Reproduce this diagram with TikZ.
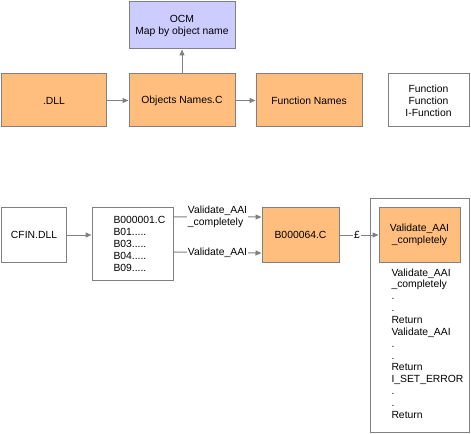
\documentclass[tikz,border=0pt]{standalone}
\usepackage        {fontspec}
\usepackage        {tikz    }
\usetikzlibrary    {arrows.meta}
\setmainfont{Liberation Sans}
\definecolor{boxline}{RGB}{128,128,128}
\definecolor{boxorange}{RGB}{255,190,125}
\definecolor{boxblue}{RGB}{204,204,255}

\begin{document}
\begin{tikzpicture}
  [->,>={Triangle[length=6bp,width=5bp]},x=1bp,y=-1bp,
   line width=1bp,draw=boxline,color=boxline,
   every node/.style={font=\fontsize{10.4}{12}\selectfont,text=black,inner sep=0pt},
   box/.style={rectangle,draw=boxline,align=center},
   orange/.style={box,fill=boxorange},
   lbl/.style={fill=white,align=left,inner sep=1bp}]
  \useasboundingbox (0,0) rectangle (471,434);

  \node[box,fill=boxblue,minimum width=106bp,minimum height=47bp] (OCM) at (182,25.5) {OCM\\Map by object name};
  \node[orange,minimum width=104bp,minimum height=53bp] (DLL) at (54,100.5) {.DLL};
  \node[orange,minimum width=106bp,minimum height=53bp] (ON) at (182,100.5) {Objects Names.C};
  \node[orange,minimum width=106bp,minimum height=53bp] (FN) at (309,100.5) {Function Names};
  \node[box,fill=white,minimum width=81bp,minimum height=53bp] (F) at (428.5,100.5) {Function\\Function\\I-Function};

  \node[box,minimum width=64bp,minimum height=54bp] (CF) at (34,235) {CFIN.DLL};
  \node[box,minimum width=81bp,minimum height=72bp] (BL) at (132.5,244) {};
  \node[anchor=west,align=left] (BT) at (113,244) {B000001.C\\B01.....\\B03.....\\B04.....\\B09.....};
  \node[orange,minimum width=77bp,minimum height=54bp] (B64) at (300.5,235) {B000064.C};
  \node[box,minimum width=99bp,minimum height=233bp] (CALL) at (419.5,315.5) {};
  \node[orange,minimum width=81bp,minimum height=54bp] (VC) at (419.5,235) {Validate\_AAI\\\_completely};
  \node[anchor=north west,align=left,font=\fontsize{10.4}{11.9}\selectfont] (RT) at (391,268)
    {Validate\_AAI\\\_completely\\.\\.\\Return\\Validate\_AAI\\.\\.\\Return\\I\_SET\_ERROR\\.\\.\\Return};

    \draw (DLL) -> (ON);
    \draw (ON) -> (OCM);
    \draw (ON) -> (FN);

    \draw (CF) -> (CF -| BL.west);
    \draw ([yshift=27bp]BL.east) -> node[lbl] {Validate\_AAI\\\_completely} ([yshift=18bp]B64.west);
    \draw ([yshift=-8bp]BL.east) -> node[lbl] {Validate\_AAI} ([yshift=-18bp]B64.west);
    \draw (B64) -> node[lbl,xshift=-2bp] {£} (VC);

\end{tikzpicture}
\end{document}
